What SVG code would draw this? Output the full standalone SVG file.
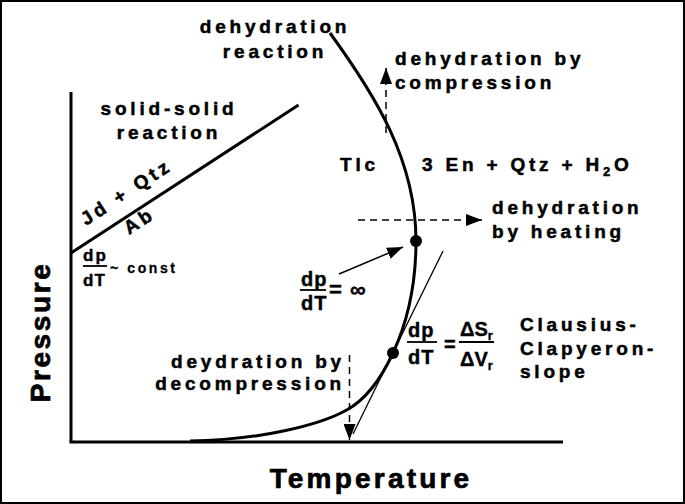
<svg xmlns="http://www.w3.org/2000/svg" width="685" height="504" viewBox="0 0 685 504">
<style>
.t{font-family:"Liberation Sans",Arial,Helvetica,sans-serif;font-weight:bold;font-size:19px;letter-spacing:3.8px;fill:#000;stroke:#000;stroke-width:0.5px}
.f{font-family:"Liberation Sans",Arial,Helvetica,sans-serif;font-weight:bold;font-size:20px;letter-spacing:1px;fill:#000;stroke:#000;stroke-width:0.4px}
.ax{stroke:#000;stroke-width:3;fill:none}
.thick{stroke:#000;stroke-width:3;fill:none}
.bar{stroke:#000;stroke-width:1.8}
.dash{stroke:#000;stroke-width:1.5;stroke-dasharray:7 5;fill:none}
</style>
<defs>
<marker id="ah" viewBox="0 0 16 12" refX="16" refY="6" markerWidth="16" markerHeight="12" orient="auto" markerUnits="userSpaceOnUse"><path d="M0,0 L16,6 L0,12 z" fill="#000"/></marker>
</defs>
<rect x="1" y="1" width="683" height="502" fill="#fff" stroke="#000" stroke-width="2"/>
<g id="axes">
<line class="ax" x1="71" y1="92" x2="71" y2="442"/>
<line class="ax" x1="69.5" y1="442" x2="563" y2="442"/>
<text class="t" style="font-size:28px;letter-spacing:2.6px;stroke-width:0.7px" transform="translate(50,332) rotate(-90)" text-anchor="middle">Pressure</text>
<text class="t" style="font-size:28px;letter-spacing:3.2px;stroke-width:0.7px" x="371" y="488" text-anchor="middle">Temperature</text>
</g>
<g id="connectors">
<line class="thick" x1="71" y1="253" x2="298.5" y2="105"/>
<path class="thick" d="M330,33 C375,95 416,160 416,241 C416,290 406,325 393,353 C380,381 365,400 346.7,410 C320,425 260,440 190,441"/>
<line stroke="#000" stroke-width="1.3" x1="443" y1="251" x2="353" y2="434"/>
<line class="dash" x1="386" y1="133" x2="386" y2="68" marker-end="url(#ah)"/>
<line class="dash" x1="358" y1="220" x2="482" y2="220" marker-end="url(#ah)"/>
<line class="dash" x1="349.5" y1="355" x2="349.5" y2="440" marker-end="url(#ah)"/>
<line stroke="#000" stroke-width="1.5" x1="339" y1="274" x2="403" y2="247" marker-end="url(#ah)"/>
</g>
<g id="points">
<circle cx="416" cy="241" r="6"/>
<circle cx="393" cy="353" r="6"/>
</g>
<g id="label-dehydration-reaction">
<text class="t" x="275" y="33" text-anchor="middle">dehydration</text>
<text class="t" x="275" y="58" text-anchor="middle">reaction</text>
</g>
<g id="label-compression">
<text class="t" x="395" y="65">dehydration by</text>
<text class="t" x="395" y="89">compression</text>
</g>
<g id="label-solid">
<text class="t" x="169" y="115" text-anchor="middle">solid-solid</text>
<text class="t" x="169" y="139" text-anchor="middle">reaction</text>
</g>
<g id="label-jd">
<text class="t" transform="translate(86,226) rotate(-33.2)">Jd + Qtz</text>
<text class="t" transform="translate(129,235) rotate(-33.2)">Ab</text>
</g>
<g id="label-tlc">
<text class="t" x="340" y="171">Tlc</text>
<text class="t" x="422" y="171">3 En + Qtz + H<tspan style="font-size:13px" dy="5">2</tspan><tspan dy="-5">O</tspan></text>
</g>
<g id="label-heating">
<text class="t" x="492" y="214">dehydration</text>
<text class="t" x="492" y="238">by heating</text>
</g>
<g id="label-const">
<text class="f" style="font-size:17px;letter-spacing:2px" x="83" y="261">dp</text>
<line class="bar" x1="83" y1="266" x2="107" y2="266"/>
<text class="f" style="font-size:17px;letter-spacing:1px" x="83" y="286">dT</text>
<text class="t" style="font-size:14px;letter-spacing:2.6px;stroke-width:0.3px" x="110" y="273">~ const</text>
</g>
<g id="label-infinity">
<text class="f" x="301" y="286">dp</text>
<line class="bar" x1="300" y1="290" x2="326" y2="290"/>
<text class="f" x="301" y="310">dT</text>
<text class="f" style="font-size:22px" x="329" y="297">= ∞</text>
</g>
<g id="label-clapeyron">
<text class="f" x="408" y="337">dp</text>
<line class="bar" x1="407" y1="342" x2="437" y2="342"/>
<text class="f" x="408" y="364">dT</text>
<text class="f" x="444" y="351">=</text>
<text class="f" style="letter-spacing:0" x="460" y="336">ΔS<tspan style="font-size:13px" dy="4">r</tspan></text>
<line class="bar" x1="459" y1="342" x2="494" y2="342"/>
<text class="f" style="letter-spacing:0" x="460" y="366">ΔV<tspan style="font-size:13px" dy="4">r</tspan></text>
<text class="t" x="520" y="331">Clausius-</text>
<text class="t" x="520" y="355">Clapyeron-</text>
<text class="t" x="520" y="378">slope</text>
</g>
<g id="label-decompression">
<text class="t" x="345" y="368" text-anchor="end">deydration by</text>
<text class="t" x="345" y="390" text-anchor="end">decompression</text>
</g>
</svg>
